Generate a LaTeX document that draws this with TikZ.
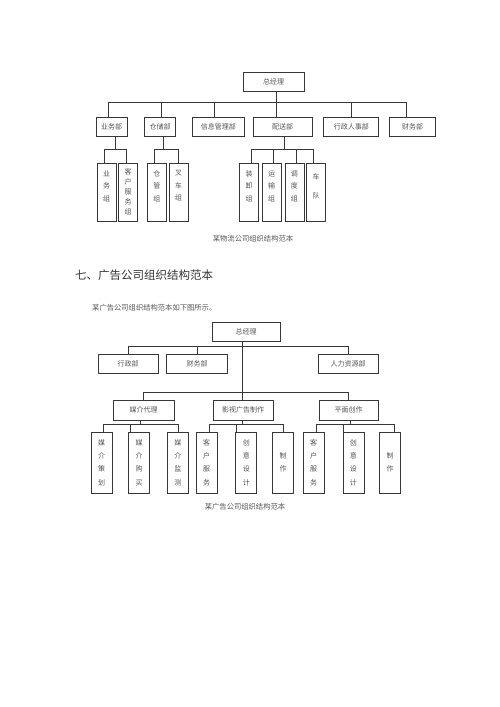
\documentclass[tikz,border=0pt]{standalone}
\usepackage{fontspec}
\setmainfont{Noto Sans CJK SC}
\usepackage{xcolor}
\usepackage{tikz}
\usetikzlibrary{positioning}
\definecolor{boxline}{RGB}{55,55,55}
\definecolor{boxtext}{RGB}{85,85,85}

\begin{document}
\begin{tikzpicture}[x=1pt, y=-1pt]
\tikzstyle{b} = [rectangle, draw=boxline, line width=0.7pt, text=boxtext, inner sep=0pt, minimum height=19, font=\fontsize{7}{8}\selectfont]
\tikzstyle{v} = [b, align=center, minimum width=19, minimum height=58, font=\fontsize{7}{12.5}\selectfont]
\tikzstyle{w} = [v, minimum width=21, minimum height=61, font=\fontsize{7}{13.3}\selectfont]
\tikzstyle{l} = [draw=boxline, line width=0.7pt]
\tikzstyle{t} = [text=boxtext, inner sep=0pt, font=\fontsize{7.3}{9}\selectfont]
\fill [white] (0,0) rectangle (500,707);
\useasboundingbox (0,0) rectangle (500,707);

\node [b, minimum width=61] (gm1) at (273.5,81.5) {总经理};
\node [b, minimum width=31] (yewu) at (111.5,126.5) {业务部};
\node [b, minimum width=31, right=17pt of yewu] (cangchu) {仓储部};
\node [b, minimum width=52, right=16pt of cangchu] (xinxi) {信息管理部};
\node [b, minimum width=59, right=8pt of xinxi] (peisong) {配送部};
\node [b, minimum width=55, right=11pt of peisong] (xingzheng) {行政人事部};
\node [b, minimum width=46, right=10pt of xingzheng] (caiwu) {财务部};
\node [v] (yw1) at (106.5,192) {业\\务\\组\\~};
\node [v, right=2pt of yw1, font=\fontsize{7}{10}\selectfont] (yw2) {客\\户\\服\\务\\组};
\node [v, right=9pt of yw2] (cc1) {仓\\管\\组\\~};
\node [v, right=2pt of cc1] (cc2) {叉\\车\\组\\~};
\node [v] (ps1) at (249,192) {装\\卸\\组\\~};
\node [v, right=3pt of ps1] (ps2) {运\\输\\组\\~};
\node [v, right=3pt of ps2] (ps3) {调\\度\\组\\~};
\node [v, right=2pt of ps3] (ps4) {车\\[6.5pt]队\\~};
\node [t] (cap1) at (253,239) {某物流公司组织结构范本};
\draw [l] ([xshift=2.5]gm1.south) -- ([xshift=2.5]gm1.south |- peisong.north);
\draw [l] ([xshift=-3.5]yewu.north) -- ++(0,-14) -| ([xshift=-6]caiwu.north);
\foreach \n/\s in {cangchu/1.5, xinxi/-4, xingzheng/0.5}
  \draw [l] ([xshift=\s]\n.north) -- ++(0,-14);
\draw [l] ([xshift=4]yewu.south) -- ++(0,14);
\draw [l] ([xshift=-2.5]yw1.north) -- ++(0,-13) -| ([xshift=-1.5]yw2.north);
\draw [l] ([xshift=3.5]cangchu.south) -- ++(0,14);
\draw [l] ([xshift=-2.5]cc1.north) -- ++(0,-13) -| ([xshift=-0.5]cc2.north);
\draw [l] ([xshift=1.5]peisong.south) -- ++(0,13);
\draw [l] ([xshift=2]ps1.north) -- ++(0,-13) -| ([xshift=-2.5]ps4.north);
\foreach \n/\s in {ps2/2, ps3/1.5}
  \draw [l] ([xshift=\s]\n.north) -- ++(0,-13);

\node [anchor=west, inner sep=0pt, text=black!80, font=\fontsize{11.5}{13}\selectfont] (title) at (75,275) {七、广告公司组织结构范本};
\node [t, anchor=west] (intro) at (92,308) {某广告公司组织结构范本如下图所示。};

\node [b, minimum width=68] (gm2) at (246,331.5) {总经理};
\node [b, minimum width=60] (xz) at (128,363.5) {行政部};
\node [b, minimum width=61, right=8pt of xz] (cw) {财务部};
\node [b, minimum width=60] (rl) at (348,363.5) {人力资源部};
\node [b, minimum width=61, minimum height=20] (mj) at (143.5,410) {媒介代理};
\node [b, minimum width=60, minimum height=20] (ys) at (243,410) {影视广告制作};
\node [b, minimum width=59, minimum height=20] (pm) at (348.5,410) {平面创作};
\node [w] (m1) at (101.5,462.5) {媒\\介\\策\\划};
\node [w, right=16pt of m1] (m2) {媒\\介\\购\\买};
\node [w, right=17pt of m2] (m3) {媒\\介\\监\\测};
\node [w, right=7pt of m3] (y1) {客\\户\\服\\务};
\node [w, right=18pt of y1] (y2) {创\\意\\设\\计};
\node [w, right=15pt of y2] (y3) {制\\作};
\node [w, right=9pt of y3] (p1) {客\\户\\服\\务};
\node [w, right=18pt of p1] (p2) {创\\意\\设\\计};
\node [w, right=15pt of p2] (p3) {制\\作};
\node [t] (cap2) at (245,507) {某广告公司组织结构范本};
\draw [l] ([xshift=-4]gm2.south) -- ([xshift=-4]gm2.south |- ys.north);
\draw [l] (xz.north) -- ++(0,-7) -| (rl.north);
\draw [l] (cw.north) -- ++(0,-7);
\draw [l] (mj.north) -- ++(0,-7) -| (pm.north);
\draw [l] ([xshift=-3.5]mj.south) -- ++(0,5);
\draw [l] ([xshift=1.5]m1.north) -- ++(0,-7) -| (m3.north);
\draw [l] ([xshift=-8.5]m2.north) -- ++(0,-7);
\draw [l] ([xshift=-1]ys.south) -- ++(0,5);
\draw [l] ([xshift=2.5]y1.north) -- ++(0,-7) -| (y3.north);
\draw [l] ([xshift=-10]y2.north) -- ++(0,-7);
\draw [l] ([xshift=1.5]pm.south) -- ++(0,5);
\draw [l] ([xshift=2.5]p1.north) -- ++(0,-7) -| ([xshift=4.5]p3.north);
\draw [l] ([xshift=-10]p2.north) -- ++(0,-7);
\end{tikzpicture}
\end{document}
